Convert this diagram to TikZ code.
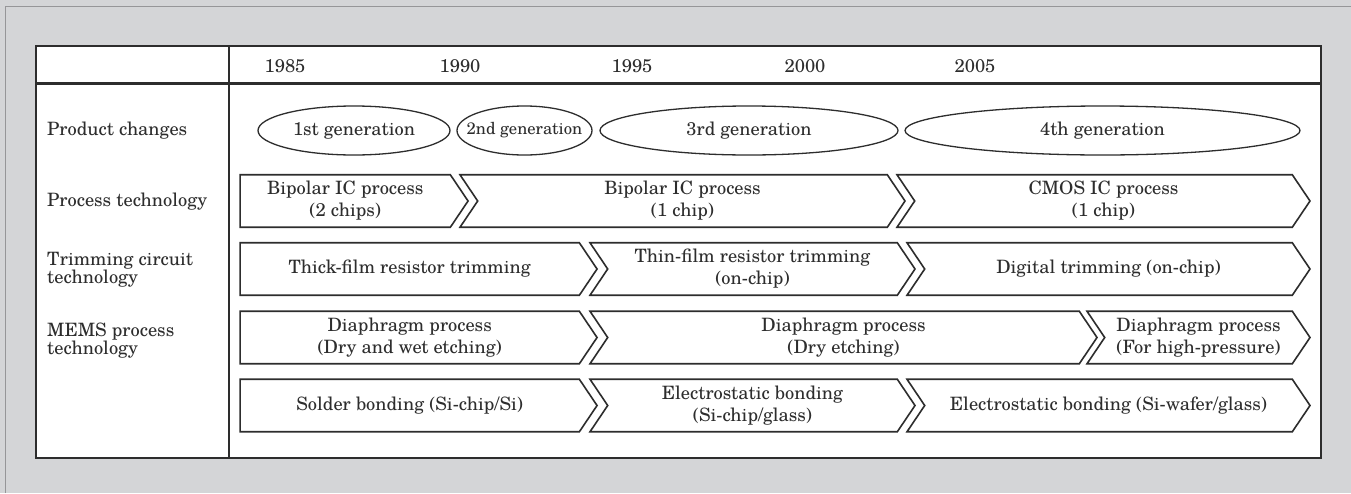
\documentclass[tikz,border=0pt]{standalone}
\usepackage{fontspec}
\setmainfont{TeX Gyre Schola}
\usetikzlibrary{shapes.geometric, shapes.symbols}
\definecolor{panelgray}{RGB}{212,213,215}
\definecolor{framegray}{RGB}{150,150,152}
\definecolor{inkgray}{RGB}{45,45,45}

\begin{document}
\begin{tikzpicture}[
        x=1pt, y=-1pt,
        font=\fontsize{18.4}{22}\selectfont,
        every node/.style={text=inkgray},
        rowlabel/.style={anchor=west, align=left, inner sep=0pt, font=\fontsize{18.4}{18}\selectfont},
        year/.style={anchor=base, inner sep=0pt},
        gen/.style={ellipse, draw=inkgray, line width=1.3pt, minimum height=49pt, inner sep=0pt},
        stage/.style={signal, signal to=east, signal pointer angle=112, draw=inkgray, line width=1.6pt, minimum height=52.5pt, inner sep=0pt, align=center},
        cont/.style={stage, signal from=west}
    ]
        \useasboundingbox (0,0) rectangle (1351,493);

        % Panel and table frame
        \fill[panelgray] (0,0) rectangle (1351,493);
        \draw[framegray, line width=0.8pt] (5,493) -- (5,6) -- (1351,6);
        \draw[fill=white, draw=inkgray, line width=1.5pt] (36,46) rectangle (1321,458);
        \draw[inkgray, line width=3pt] (36,83) -- (1321,83);
        \draw[inkgray, line width=1.2pt] (229,46) -- (229,458);

        % Years
        \node[year] (y1985) at (285,72.7) {1985};
        \node[year] (y1990) at (460,72.7) {1990};
        \node[year] (y1995) at (632,72.7) {1995};
        \node[year] (y2000) at (805,72.7) {2000};
        \node[year] (y2005) at (975,72.7) {2005};

        % Row labels
        \node[rowlabel] (lblProduct) at (47,131) {Product changes};
        \node[rowlabel] (lblProcess) at (47,202) {Process technology};
        \node[rowlabel] (lblTrim) at (47,269.5) {Trimming circuit\\technology};
        \node[rowlabel] (lblMems) at (47,341) {MEMS process\\technology};

        % Product generations (zero-width text so the ellipse keeps its size)
        \node[gen, minimum width=192pt] (gen1) at (354,130.5) {\makebox[0pt]{1st generation}};
        \node[gen, minimum width=135pt] (gen2) at (524.5,130.5) {\makebox[0pt]{\fontsize{16.6}{20}\selectfont 2nd generation}};
        \node[gen, minimum width=298pt] (gen3) at (749,130.5) {\makebox[0pt]{3rd generation}};
        \node[gen, minimum width=395pt] (gen4) at (1102.5,130.5) {\makebox[0pt]{4th generation}};

        % Process technology
        \node[stage, minimum width=228pt] (proc1) at (345.2,201) {Bipolar IC process\\(2 chips)};
        \node[cont, minimum width=445pt] (proc2) at (682.5,201) {Bipolar IC process\\(1 chip)};
        \node[cont, minimum width=413pt] (proc3) at (1103.5,201) {CMOS IC process\\(1 chip)};

        % Trimming circuit technology
        \node[stage, minimum width=357pt] (trim1) at (409.7,269) {Thick-film resistor trimming};
        \node[cont, minimum width=325pt] (trim2) at (752.5,269) {Thin-film resistor trimming\\(on-chip)};
        \node[cont, minimum width=403pt] (trim3) at (1108.5,269) {Digital trimming (on-chip)};

        % MEMS process technology
        \node[stage, minimum width=357pt] (mems1) at (409.7,337.5) {Diaphragm process\\(Dry and wet etching)};
        \node[cont, minimum width=507pt] (mems2) at (843.5,337.5) {Diaphragm process\\(Dry etching)};
        \node[cont, minimum width=223pt] (mems3) at (1198.5,337.5) {Diaphragm process\\(For high-pressure)};

        % Bonding
        \node[stage, minimum width=357pt] (bond1) at (409.7,405.5) {Solder bonding (Si-chip/Si)};
        \node[cont, minimum width=325pt] (bond2) at (752.5,405.5) {Electrostatic bonding\\(Si-chip/glass)};
        \node[cont, minimum width=403pt] (bond3) at (1108.5,405.5) {Electrostatic bonding (Si-wafer/glass)};
    \end{tikzpicture}
\end{document}
